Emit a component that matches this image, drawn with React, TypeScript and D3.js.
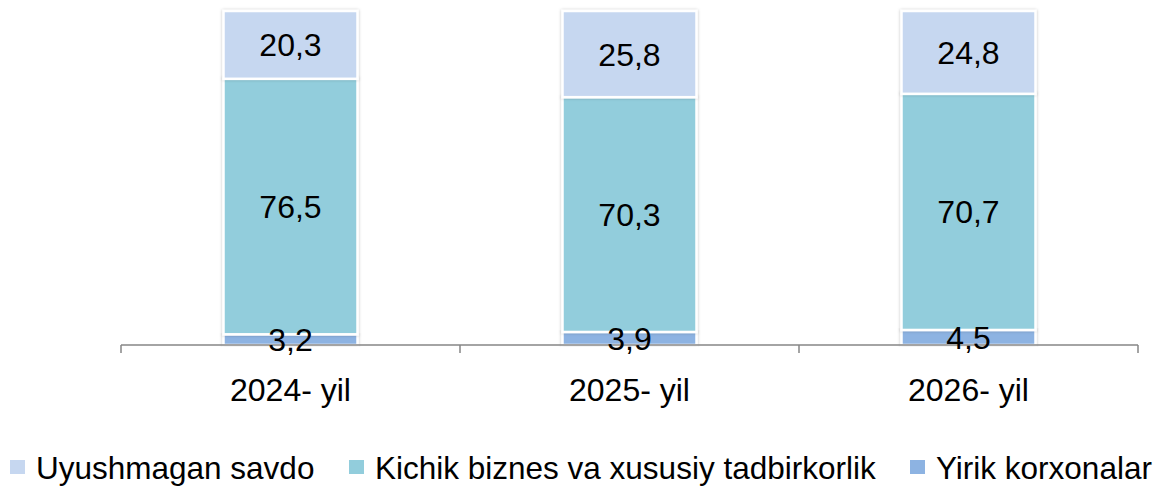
import React, { useEffect, useRef } from "react";
import * as d3 from "d3";

const years = ["2024- yil", "2025- yil", "2026- yil"];
const seriesNames = ["Yirik korxonalar", "Kichik biznes va xususiy tadbirkorlik", "Uyushmagan savdo"];
const yirik = [3.2, 3.9, 4.5];
const kichik = [76.5, 70.3, 70.7];
const uyushmagan = [20.3, 25.8, 24.8];
const colors = ["#8DB3E2", "#92CDDC", "#C6D7F0"];

const W = 1159;
const H = 487;

const App = () => {
    const svgRef = useRef<SVGSVGElement>(null);

    useEffect(() => {
        const rows = years.map((year, i) => ({
            year,
            s0: yirik[i],
            s1: kichik[i],
            s2: uyushmagan[i],
        }));
        const keys = ["s0", "s1", "s2"];
        const stacked = d3.stack<any>().keys(keys)(rows);

        const x = d3.scaleBand().domain(years).range([121, 1138]).paddingInner(0).paddingOuter(0);
        const y = d3.scaleLinear().domain([0, 100]).range([345, 11]);
        const barW = 134;

        const svg = d3.select(svgRef.current);
        svg.selectAll("*").remove();

        const defs = svg.append("defs");
        const f = defs.append("filter").attr("id", "shadow").attr("x", "-10%").attr("y", "-10%")
            .attr("width", "120%").attr("height", "120%");
        f.append("feDropShadow").attr("dx", 0).attr("dy", 0).attr("stdDeviation", 1.6)
            .attr("flood-color", "#000").attr("flood-opacity", 0.25);

        const font = "'Liberation Sans', Arial, sans-serif";

        const bars = svg.append("g");
        stacked.forEach((layer, li) => {
            bars.append("g")
                .selectAll("rect")
                .data(layer)
                .join("rect")
                .attr("x", (d: any) => x(d.data.year)! + x.bandwidth() / 2 - barW / 2)
                .attr("y", (d) => y(d[1]))
                .attr("width", barW)
                .attr("height", (d) => y(d[0]) - y(d[1]))
                .attr("fill", colors[li])
                .attr("stroke", "#fff")
                .attr("stroke-width", 2.5)
                .attr("filter", "url(#shadow)");
        });

        // axis
        const axis = svg.append("g").attr("transform", "translate(0,345)");
        axis.append("line").attr("x1", 121).attr("x2", 1138).attr("stroke", "#868686").attr("stroke-width", 1.5);
        const tickXs = [...years.map((yr) => x(yr)!), 1138];
        axis.selectAll("line.tick").data(tickXs).join("line").attr("class", "tick")
            .attr("x1", (d) => d).attr("x2", (d) => d).attr("y1", 0).attr("y2", 8)
            .attr("stroke", "#868686").attr("stroke-width", 1.5);
        axis.selectAll("text").data(years).join("text")
            .attr("x", (d) => x(d)! + x.bandwidth() / 2)
            .attr("y", 56)
            .attr("text-anchor", "middle")
            .attr("font-family", font)
            .attr("font-size", 32)
            .attr("fill", "#000")
            .text((d) => d);

        // labels
        const labels = svg.append("g");
        stacked.forEach((layer) => {
            labels.append("g")
                .selectAll("text")
                .data(layer)
                .join("text")
                .attr("x", (d: any) => x(d.data.year)! + x.bandwidth() / 2)
                .attr("y", (d) => (y(d[0]) + y(d[1])) / 2)
                .attr("dy", "0.36em")
                .attr("text-anchor", "middle")
                .attr("font-family", font)
                .attr("font-size", 32)
                .attr("fill", "#000")
                .text((d) => String((d[1] - d[0]).toFixed(1)).replace(".", ","));
        });

        // legend
        const legendItems = [
            { name: seriesNames[2], color: colors[2], x: 10 },
            { name: seriesNames[1], color: colors[1], x: 349 },
            { name: seriesNames[0], color: colors[0], x: 910 },
        ];
        const lg = svg.append("g").selectAll("g").data(legendItems).join("g")
            .attr("transform", (d) => `translate(${d.x},0)`);
        lg.append("rect").attr("x", 0).attr("y", 460).attr("width", 15).attr("height", 14).attr("fill", (d) => d.color);
        lg.append("text").attr("x", 26).attr("y", 479)
            .attr("font-family", font).attr("font-size", 31.5).attr("fill", "#000")
            .text((d) => d.name);
    }, []);

    return (
        <svg ref={svgRef} width={W} height={H} style={{ position: "absolute", left: 0, top: 0, background: "#fff" }} />
    );
};

export default App;
